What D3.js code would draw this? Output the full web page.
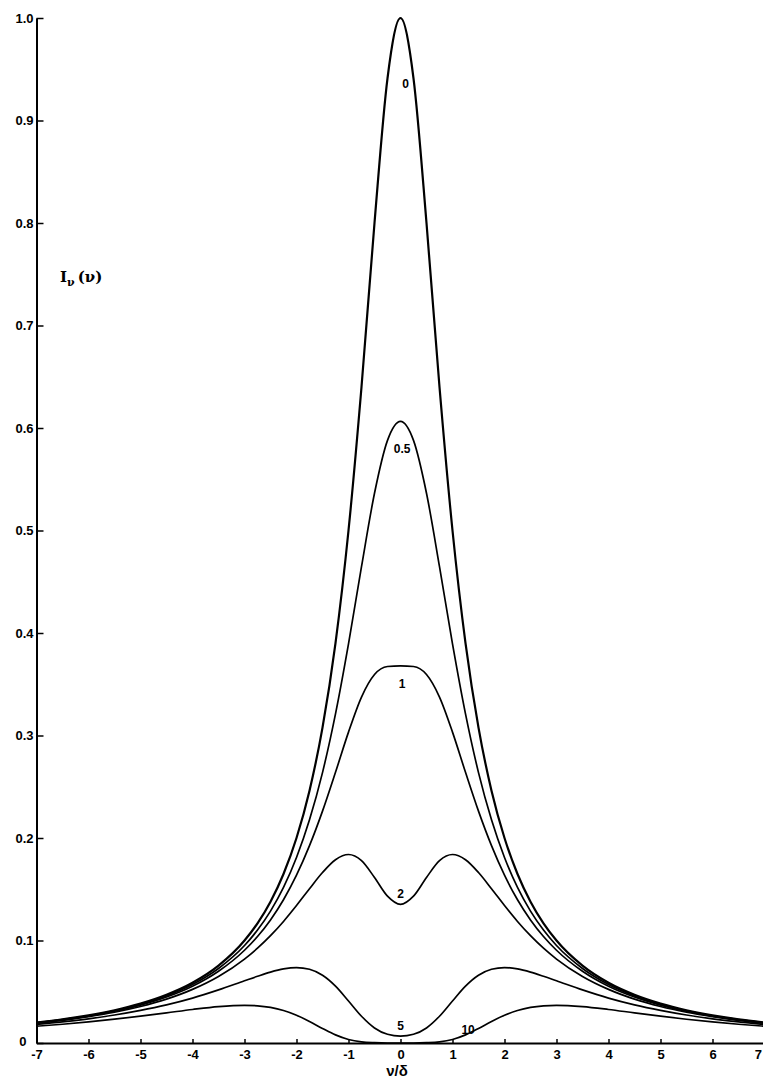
<!DOCTYPE html>
<html>
<head>
<meta charset="utf-8">
<script src="https://cdn.jsdelivr.net/npm/d3@7"></script>
<style>
  body { margin: 0; background: white; }
  .chart text { font-family: "Liberation Sans", "DejaVu Sans", sans-serif; }
</style>
</head>
<body>
<div class="chart"></div>
<script>
/*** Data ***/

// frequency offset v/delta
let vValues = [-7, -6.5, -6, -5.5, -5, -4.5, -4, -3.5, -3, -2.75, -2.5, -2.25, -2, -1.75, -1.5, -1.25, -1, -0.75, -0.5, -0.25,
    0, 0.25, 0.5, 0.75, 1, 1.25, 1.5, 1.75, 2, 2.25, 2.5, 2.75, 3, 3.5, 4, 4.5, 5, 5.5, 6, 6.5, 7]

// curve labels (optical depth)
let curveLabels = ["0", "0.5", "1", "2", "5", "10"]

let curve0 = [0.0200, 0.0231, 0.0270, 0.0320, 0.0385, 0.0471, 0.0588, 0.0755, 0.1000, 0.1168, 0.1379, 0.1649, 0.2000, 0.2462, 0.3077, 0.3902, 0.5000, 0.6400, 0.8000, 0.9412,
    1.0000, 0.9412, 0.8000, 0.6400, 0.5000, 0.3902, 0.3077, 0.2462, 0.2000, 0.1649, 0.1379, 0.1168, 0.1000, 0.0755, 0.0588, 0.0471, 0.0385, 0.0320, 0.0270, 0.0231, 0.0200]

let curve05 = [0.0198, 0.0229, 0.0266, 0.0315, 0.0377, 0.0460, 0.0571, 0.0727, 0.0951, 0.1102, 0.1287, 0.1518, 0.1810, 0.2177, 0.2638, 0.3211, 0.3894, 0.4647, 0.5363, 0.5879,
    0.6065, 0.5879, 0.5363, 0.4647, 0.3894, 0.3211, 0.2638, 0.2177, 0.1810, 0.1518, 0.1287, 0.1102, 0.0951, 0.0727, 0.0571, 0.0460, 0.0377, 0.0315, 0.0266, 0.0229, 0.0198]

let curve1 = [0.0196, 0.0226, 0.0263, 0.0310, 0.0370, 0.0449, 0.0554, 0.0700, 0.0905, 0.1039, 0.1201, 0.1398, 0.1637, 0.1925, 0.2262, 0.2641, 0.3033, 0.3375, 0.3595, 0.3673,
    0.3679, 0.3673, 0.3595, 0.3375, 0.3033, 0.2641, 0.2262, 0.1925, 0.1637, 0.1398, 0.1201, 0.1039, 0.0905, 0.0700, 0.0554, 0.0449, 0.0370, 0.0310, 0.0263, 0.0226, 0.0196]

let curve2 = [0.0192, 0.0221, 0.0256, 0.0300, 0.0356, 0.0428, 0.0523, 0.0649, 0.0819, 0.0925, 0.1047, 0.1186, 0.1341, 0.1505, 0.1663, 0.1788, 0.1839, 0.1779, 0.1615, 0.1433,
    0.1353, 0.1433, 0.1615, 0.1779, 0.1839, 0.1788, 0.1663, 0.1505, 0.1341, 0.1186, 0.1047, 0.0925, 0.0819, 0.0649, 0.0523, 0.0428, 0.0356, 0.0300, 0.0256, 0.0221, 0.0192]

let curve5 = [0.0181, 0.0206, 0.0236, 0.0273, 0.0318, 0.0372, 0.0438, 0.0518, 0.0607, 0.0651, 0.0692, 0.0723, 0.0736, 0.0719, 0.0661, 0.0555, 0.0410, 0.0261, 0.0147, 0.0085,
    0.0067, 0.0085, 0.0147, 0.0261, 0.0410, 0.0555, 0.0661, 0.0719, 0.0736, 0.0723, 0.0692, 0.0651, 0.0607, 0.0518, 0.0438, 0.0372, 0.0318, 0.0273, 0.0236, 0.0206, 0.0181]

let curve10 = [0.0164, 0.0183, 0.0206, 0.0232, 0.0262, 0.0294, 0.0327, 0.0355, 0.0368, 0.0363, 0.0347, 0.0317, 0.0271, 0.0210, 0.0142, 0.0079, 0.0034, 0.0011, 0.0003, 0.0000,
    0.0000, 0.0000, 0.0003, 0.0011, 0.0034, 0.0079, 0.0142, 0.0210, 0.0271, 0.0317, 0.0347, 0.0363, 0.0368, 0.0355, 0.0327, 0.0294, 0.0262, 0.0232, 0.0206, 0.0183, 0.0164]

let xTicks = [-7, -6, -5, -4, -3, -2, -1, 0, 1, 2, 3, 4, 5, 6, 7]
let yTicks = [0, 0.1, 0.2, 0.3, 0.4, 0.5, 0.6, 0.7, 0.8, 0.9, 1.0]

// where each curve label sits: [v, value]
let labelPos = [[0.1, 0.932], [0.03, 0.576], [0.03, 0.346], [0, 0.1415], [0, 0.0125], [1.3, 0.009]]

const svgWidth = 763
const svgHeight = 1083

/* svg */

let svg = d3.select(".chart")
    .append("svg")
    .attr("width", svgWidth)
    .attr("height", svgHeight)
    .style("background-color", "white")

/* scales */

let xScale = d3.scaleLinear()
    .domain([-7, 7])
    .range([36.5, 764.5])

let yScale = d3.scaleLinear()
    .domain([0, 1])
    .range([1043, 18])

/* axes */

let leftAxis = d3.axisLeft(yScale)
    .tickValues(yTicks)
    .tickSizeInner(-7)
    .tickSizeOuter(0)
    .tickPadding(3)
    .tickFormat(d => d === 0 ? "0" : d3.format(".1f")(d))

let yAxis = svg.append("g")
    .attr("transform", `translate(${xScale(-7)}, 0)`)
    .call(leftAxis)

let bottomAxis = d3.axisBottom(xScale)
    .tickValues(xTicks)
    .tickSizeInner(-4)
    .tickSizeOuter(0)
    .tickPadding(7)
    .tickFormat(d => d < 0 ? "-" + Math.abs(d) : d)

let xAxis = svg.append("g")
    .attr("transform", `translate(0, ${yScale(0)})`)
    .call(bottomAxis)

for (let ax of [xAxis, yAxis]) {
    ax.select(".domain").style("stroke", "black").style("stroke-width", 2)
    ax.selectAll("line").style("stroke", "black").style("stroke-width", 1.5)
    ax.selectAll("text")
        .style("fill", "black")
        .style("font-size", "13px")
        .style("font-weight", "bold")
}
// the x axis starts at -7 and the y axis already marks 0
xAxis.selectAll(".tick").filter(d => d === -7).select("line").remove()
// last label sits on the page edge, keep it inside
xAxis.selectAll(".tick").filter(d => d === 7).select("text").attr("text-anchor", "end").attr("dx", -3)
yAxis.selectAll(".tick").filter(d => d === 0).select("text").attr("x", -10).attr("dy", "0.2em")

/* curves */

let series = [curve0, curve05, curve1, curve2, curve5, curve10]

let line = d3.line()
    .x(d => xScale(d[0]))
    .y(d => yScale(d[1]))
    .curve(d3.curveMonotoneX)

svg.append("g")
    .selectAll("path")
    .data(series)
    .enter()
    .append("path")
    .attr("d", s => line(vValues.map((v, i) => [v, s[i]])))
    .attr("fill", "none")
    .attr("stroke", "black")
    .attr("stroke-width", (s, i) => i === 0 ? 2.2 : 1.7)

svg.append("g")
    .selectAll("text")
    .data(curveLabels)
    .enter()
    .append("text")
    .attr("x", (d, i) => xScale(labelPos[i][0]))
    .attr("y", (d, i) => yScale(labelPos[i][1]))
    .attr("text-anchor", "middle")
    .attr("fill", "black")
    .style("font-size", "12px")
    .style("font-weight", "bold")
    .text(d => d)

/* axis titles */

let yTitle = svg.append("text")
    .attr("x", 60)
    .attr("y", 282)
    .attr("fill", "black")
    .style("font-family", "'DejaVu Serif', serif")
    .style("font-size", "15px")
    .style("font-weight", "bold")
yTitle.append("tspan").text("I")
yTitle.append("tspan").attr("dy", 4).style("font-size", "11px").text("ν")
yTitle.append("tspan").attr("dy", -4).attr("dx", 3).text("(ν)")

svg.append("text")
    .attr("x", 397)
    .attr("y", 1076)
    .attr("text-anchor", "middle")
    .attr("fill", "black")
    .style("font-size", "15px")
    .style("font-weight", "bold")
    .text("ν/δ")
</script>
</body>
</html>
